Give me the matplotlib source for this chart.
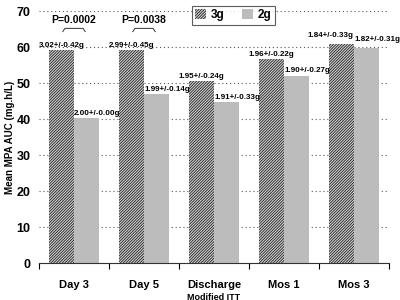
import numpy as np
import matplotlib.pyplot as plt

# data
categories = ["Day 3", "Day 5", "Discharge", "Mos 1", "Mos 3"]
auc_3g = [59.2, 59.2, 50.6, 56.7, 60.8]
auc_2g = [40.3, 46.9, 44.7, 52.0, 59.7]
dose_3g = ["3.02+/-0.42g", "2.99+/-0.45g", "1.95+/-0.24g", "1.96+/-0.22g", "1.84+/-0.33g"]
dose_2g = ["2.00+/-0.00g", "1.99+/-0.14g", "1.91+/-0.33g", "1.90+/-0.27g", "1.82+/-0.31g"]
p_values = ["P=0.0002", "P=0.0038"]

plt.rcParams["font.family"] = "Liberation Sans"
plt.rcParams["font.weight"] = "bold"
plt.rcParams["hatch.color"] = "#222222"
plt.rcParams["hatch.linewidth"] = 0.6

fig = plt.figure(figsize=(4, 3), dpi=100)
ax = fig.add_axes([0.0975, 0.123, 0.875, 0.840])

x = np.arange(len(categories)) + 0.5
w = 0.36
b3 = ax.bar(x - w / 2, auc_3g, w, color="#d0d0d0", hatch="/" * 12, label="3g", zorder=2)
b2 = ax.bar(x + w / 2, auc_2g, w, color="#bcbcbc", label="2g", zorder=2)

# dose labels over the bars
for i in range(len(categories)):
    dx = -0.15 if i == 4 else 0.0
    dy = 1.5 if i == 4 else 0.4
    ax.text(x[i] - w / 2 + dx, auc_3g[i] + dy, dose_3g[i], ha="center", va="bottom",
            fontsize=5.8, fontweight="bold")
    ax.text(x[i], auc_2g[i] + (1.5 if i == 4 else 0.4), dose_2g[i], ha="left", va="bottom",
            fontsize=5.8, fontweight="bold", clip_on=False)

# p-value brackets for Day 3 and Day 5
for i, p in enumerate(p_values):
    x0, x1 = x[i] - 0.16, x[i] + 0.16
    ax.plot([x0, x0 + 0.03, x1 - 0.03, x1], [64.3, 65.2, 65.2, 64.3], color="#333333",
            lw=0.7, zorder=3)
    ax.text(x[i], 66.2, p, ha="center", va="bottom", fontsize=7.5, fontweight="bold")

ax.set_xlim(0, len(categories))
ax.set_ylim(0, 70)
ax.set_yticks(range(0, 71, 10))
ax.set_xticks(np.arange(len(categories) + 1))
ax.set_xticklabels([])
ax.set_xticks(x, minor=True)
ax.set_xticklabels(categories, minor=True, fontsize=8, fontweight="bold")
ax.tick_params(axis="x", which="minor", length=0, pad=12)
ax.tick_params(axis="x", which="major", length=4, direction="out")
ax.tick_params(axis="y", length=0, labelsize=9, pad=6)
for lbl in ax.get_yticklabels():
    lbl.set_fontweight("bold")

ax.yaxis.grid(True, linestyle=(0, (1, 2.5)), color="#555555", lw=0.8, zorder=0)
ax.set_axisbelow(True)
for s in ["top", "right"]:
    ax.spines[s].set_visible(False)
ax.spines["left"].set_visible(False)
ax.spines["bottom"].set_color("#333333")

ax.set_ylabel("Mean MPA AUC (mg.h/L)", fontsize=7, fontweight="bold", labelpad=1)
ax.set_xlabel("Modified ITT", fontsize=6.5, fontweight="bold", labelpad=2)

leg = ax.legend(loc="upper center", bbox_to_anchor=(0.555, 1.045), ncol=2, frameon=True,
                fancybox=False, edgecolor="#333333", handlelength=0.9,
                handleheight=0.9, columnspacing=1.5, handletextpad=0.4, borderpad=0.3,
                prop={"weight": "bold", "size": 8.5})
leg.get_frame().set_linewidth(0.8)

fig.savefig("out.png", dpi=100)
